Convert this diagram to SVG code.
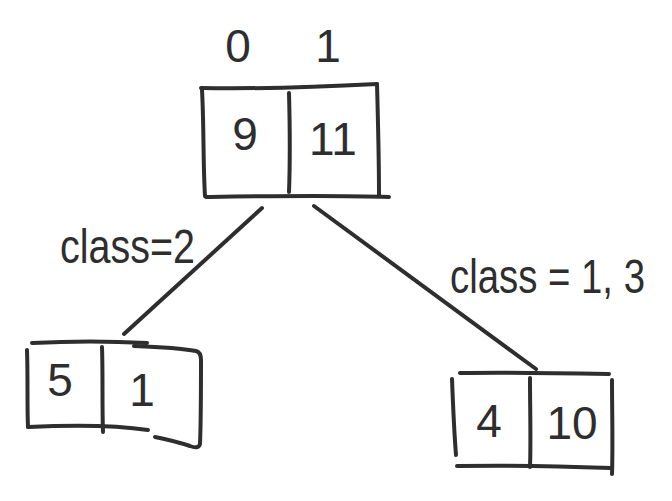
<svg xmlns="http://www.w3.org/2000/svg" width="672" height="501" viewBox="0 0 672 501">
  <style>
    .ink { fill: none; stroke: #2e2e2e; stroke-width: 4; stroke-linecap: round; stroke-linejoin: round; }
    .hand { fill: #2e2e2e; font-family: "Liberation Sans", "DejaVu Sans", sans-serif; }
    .num { font-size: 46px; text-anchor: middle; }
    .lbl { font-size: 48px; }
  </style>
  <rect width="672" height="501" fill="#ffffff"/>

  <!-- root node with column headers -->
  <g id="root">
    <text class="hand num" x="238" y="62">0</text>
    <text class="hand num" x="328" y="62">1</text>
    <path class="ink" d="M201,88 C260,89 320,87 377,84"/>
    <path class="ink" d="M202,90 C204,125 203,165 205,196"/>
    <path class="ink" d="M377,84 C378,120 379,160 379,195"/>
    <path class="ink" d="M206,197 C270,196 330,195 389,197"/>
    <path class="ink" d="M289,93 C290,130 290,165 289,192"/>
    <text class="hand num" x="245" y="150">9</text>
    <text class="hand num" x="333" y="155">11</text>
  </g>

  <!-- left child -->
  <g id="left">
    <path class="ink" d="M32,343 C70,341 110,341 147,343"/>
    <path class="ink" d="M27,350 C28,380 27,405 28,427"/>
    <path class="ink" d="M28,427 C70,425 115,425 148,430"/>
    <path class="ink" d="M102,347 C103,375 102,405 103,432"/>
    <path class="ink" d="M134,346 C160,347 185,349 196,351 C200,352 201,356 201,360 C201,390 201,420 200,444 C199,448 195,448 190,446 C178,442 165,439 155,437"/>
    <text class="hand num" x="60" y="396">5</text>
    <text class="hand num" x="142" y="406">1</text>
  </g>

  <!-- right child -->
  <g id="right">
    <path class="ink" d="M460,373 C510,372 560,373 609,374"/>
    <path class="ink" d="M452,379 C453,405 454,430 456,455"/>
    <path class="ink" d="M457,466 C510,465 560,466 611,468"/>
    <path class="ink" d="M530,378 C530,410 531,440 530,467"/>
    <path class="ink" d="M612,380 C612,410 613,445 612,474"/>
    <text class="hand num" x="489" y="437">4</text>
    <text class="hand num" x="572" y="439">10</text>
  </g>

  <!-- branches and their conditions -->
  <g id="connectors">
    <path class="ink" d="M262,208 L124,334"/>
    <path class="ink" d="M314,206 L536,369"/>
    <text class="hand lbl" x="60" y="263" textLength="135" lengthAdjust="spacingAndGlyphs">class=2</text>
    <text class="hand lbl" x="450" y="293" textLength="195" lengthAdjust="spacingAndGlyphs">class = 1, 3</text>
  </g>
</svg>
